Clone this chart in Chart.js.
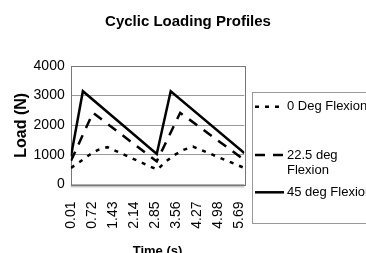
<!DOCTYPE html>
<html>
<head>
<meta charset="utf-8">
<script src="https://cdn.jsdelivr.net/npm/chart.js@4/dist/chart.umd.min.js"></script>
<style>html,body{margin:0;padding:0;background:#fff}</style>
</head>
<body>
<canvas id="myChart" width="366" height="253"></canvas>
<script>
// tick labels on the time axis
const timeTicks = ['0.01', '0.72', '1.43', '2.14', '2.85', '3.56', '4.27', '4.98', '5.69']
const seriesNames = ['0 Deg Flexion', '22.5 deg\nFlexion', '45 deg Flexion']

// 0 deg flexion (dotted)
const t0 = [0.01, 0.30, 0.60, 0.92, 1.24, 2.92, 3.20, 3.50, 3.80, 4.12, 5.85]
const load0 = [560, 760, 980, 1170, 1260, 500, 770, 1000, 1170, 1280, 560]
// 22.5 deg flexion (dashed)
const t22 = [0.01, 0.75, 2.90, 3.69, 5.85]
const load22 = [800, 2420, 780, 2420, 830]
// 45 deg flexion (solid)
const t45 = [0.01, 0.41, 2.90, 3.37, 5.85]
const load45 = [950, 3150, 1030, 3150, 1060]

const toPoints = (ts, ys) => ts.map((t, i) => ({x: t, y: ys[i]}))

let data = {
    datasets: [{
        label: seriesNames[0],
        data: toPoints(t0, load0),
        borderColor: '#000',
        borderWidth: 2.5,
        borderDash: [4, 6],
        pointRadius: 0,
        tension: 0
    }, {
        label: seriesNames[1],
        data: toPoints(t22, load22),
        borderColor: '#000',
        borderWidth: 2.5,
        borderDash: [10, 8],
        pointRadius: 0,
        tension: 0
    }, {
        label: seriesNames[2],
        data: toPoints(t45, load45),
        borderColor: '#000',
        borderWidth: 2.5,
        borderDash: [],
        pointRadius: 0,
        tension: 0
    }]
}

// plot frame + grey floor band under the plot
const frame = {
    id: 'frame',
    beforeDatasetsDraw(chart) {
        const {ctx, chartArea: a} = chart
        ctx.save()
        ctx.fillStyle = '#c8c8c8'
        ctx.fillRect(a.left, a.bottom, a.right - a.left, 3)
        ctx.strokeStyle = '#777'
        ctx.lineWidth = 1
        ctx.strokeRect(Math.round(a.left) + 0.5, Math.round(a.top) + 0.5,
            Math.round(a.right - a.left), Math.round(a.bottom - a.top))
        ctx.restore()
    }
}

// legend box on the right, drawn from the dataset styles
const sideLegend = {
    id: 'sideLegend',
    afterDraw(chart) {
        const ctx = chart.ctx
        const rows = [106.7, 155, 192.3]
        ctx.save()
        ctx.strokeStyle = '#999'
        ctx.lineWidth = 1
        ctx.strokeRect(252.5, 92.5, 130, 131)
        ctx.font = '13px "Liberation Sans"'
        ctx.fillStyle = '#000'
        ctx.textBaseline = 'middle'
        chart.data.datasets.forEach((ds, i) => {
            const y = rows[i]
            ctx.beginPath()
            ctx.setLineDash(ds.borderDash)
            ctx.lineWidth = ds.borderWidth
            ctx.strokeStyle = ds.borderColor
            ctx.moveTo(255, y)
            ctx.lineTo(284, y)
            ctx.stroke()
            ds.label.split('\n').forEach((line, k) => {
                ctx.fillText(line, 287, y + k * 15)
            })
        })
        ctx.restore()
    }
}

let config = {
    type: 'line',
    data: data,
    plugins: [frame, sideLegend],
    options: {
        responsive: false,
        animation: false,
        layout: {padding: {left: 10, right: 0, top: 0, bottom: 0}},
        plugins: {
            legend: {display: false},
            tooltip: {enabled: false},
            title: {
                display: true,
                text: 'Cyclic Loading Profiles',
                color: '#000',
                font: {family: 'Liberation Sans', size: 15, weight: 'bold'},
                padding: {top: 13, bottom: 35}
            }
        },
        scales: {
            x: {
                type: 'linear',
                min: 0,
                max: 5.85,
                afterBuildTicks: s => { s.ticks = timeTicks.map(v => ({value: parseFloat(v)})) },
                afterFit: s => { s.height = 68.5 },
                grid: {display: false},
                border: {display: false},
                ticks: {
                    callback: (v, i) => timeTicks[i],
                    autoSkip: false,
                    minRotation: 90,
                    maxRotation: 90,
                    padding: 9,
                    color: '#000',
                    font: {family: 'Liberation Sans', size: 14}
                },
                title: {
                    display: true,
                    text: 'Time (s)',
                    color: '#000',
                    font: {family: 'Liberation Sans', size: 13, weight: 'bold'},
                    padding: {top: 0, bottom: -6}
                }
            },
            y: {
                min: 0,
                max: 4000,
                afterFit: s => { s.width = 60.7 },
                grid: {color: '#999', drawTicks: false},
                border: {display: false},
                ticks: {
                    stepSize: 1000,
                    callback: v => String(v),
                    padding: 6,
                    color: '#000',
                    font: {family: 'Liberation Sans', size: 14}
                },
                title: {
                    display: true,
                    text: 'Load (N)',
                    color: '#000',
                    font: {family: 'Liberation Sans', size: 16, weight: 'bold'},
                    padding: {top: 2, bottom: 0}
                }
            },
            y2: {
                type: 'linear',
                position: 'right',
                afterFit: s => { s.width = 121.7 },
                grid: {display: false},
                border: {display: false},
                ticks: {display: false}
            }
        }
    }
}

let myChart = new Chart(
    document.getElementById('myChart'),
    config
)
</script>
</body>
</html>
